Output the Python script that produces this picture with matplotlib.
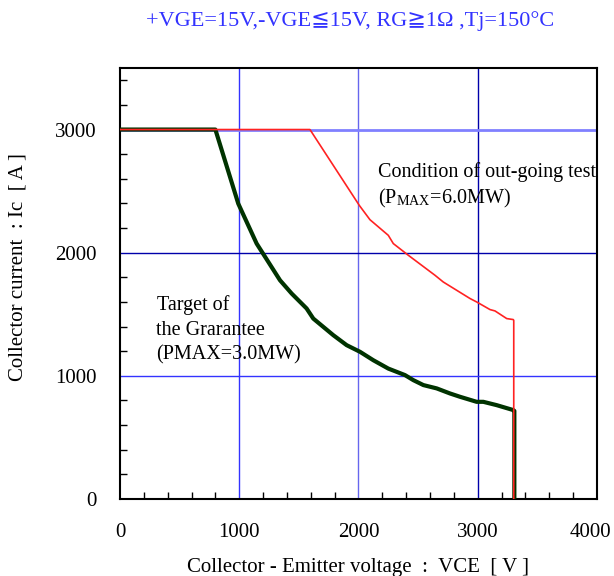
import matplotlib
matplotlib.use("Agg")
import matplotlib.pyplot as plt
import matplotlib.transforms as mtransforms
from matplotlib.ticker import MultipleLocator

plt.rcParams['font.family'] = ['Liberation Serif', 'DejaVu Serif', 'DejaVu Sans']
plt.rcParams['mathtext.fontset'] = 'stix'

# Target of the guarantee (PMAX = 3.0MW)
target_vce = [0, 800, 992, 1146, 1342, 1440, 1565, 1621, 1789, 1901, 2013, 2124,
              2250, 2390, 2460, 2544, 2656, 2767, 2851, 2991, 3047, 3159, 3298, 3307, 3307]
target_ic = [3000, 3000, 2398, 2074, 1776, 1668, 1547, 1465, 1330, 1249, 1195, 1127,
             1059, 1006, 965, 925, 898, 857, 830, 789, 789, 762, 722, 715, 0]

# Condition of out-going test (PMAX = 6.0MW)
test_vce = [0, 1593, 2007, 2096, 2250, 2292, 2418, 2641, 2711, 2823, 2935, 2991,
            3103, 3145, 3243, 3298, 3302, 3302]
test_ic = [3000, 3000, 2384, 2268, 2141, 2074, 1979, 1817, 1762, 1695, 1628, 1600,
           1538, 1527, 1465, 1457, 1450, 0]

xticks = [0, 1000, 2000, 3000, 4000]
yticks = [0, 1000, 2000, 3000]

fig = plt.figure(figsize=(6.14, 5.76), dpi=100)
ax = fig.add_axes([0.1954, 0.1337, 0.7769, 0.7483])

# grid lines
ax.axvline(1000, color='#3333ff', lw=1.0, zorder=1)
ax.axvline(2000, color='#6666ee', lw=1.0, zorder=1)
ax.axvline(3000, color='#0000aa', lw=1.0, zorder=1)
ax.axhline(1000, color='#3333ff', lw=1.0, zorder=1)
ax.axhline(2000, color='#0000aa', lw=1.0, zorder=1)
ax.axhline(3000, color='#8080ff', lw=2.0, zorder=1)

ax.plot(target_vce, target_ic, color='#003300', lw=3.0, zorder=3)
ax.plot(test_vce, test_ic, color='#ff2222', lw=1.2, zorder=4)

ax.set_xlim(0, 4000)
ax.set_ylim(0, 3500)
ax.set_xticks(xticks)
ax.set_yticks(yticks)
ax.xaxis.set_minor_locator(MultipleLocator(200))
ax.yaxis.set_minor_locator(MultipleLocator(200))
ax.tick_params(which='both', direction='in', top=False, right=False, labelsize=15)
ax.tick_params(which='major', length=0, pad=17)
ax.tick_params(which='minor', length=5, width=1, color='black')
for s in ax.spines.values():
    s.set_linewidth(1.5)

# keep the last x tick label inside the figure
last = ax.get_xticklabels()[-1]
last.set_transform(last.get_transform() + mtransforms.ScaledTranslation(-7 / 100, 0, fig.dpi_scale_trans))

ax.set_xlabel('Collector - Emitter voltage  :  VCE  [ V ]', fontsize=15, labelpad=12)
fig.text(18 / 614, 1 - 267 / 576, 'Collector current  : Ic  [ A ]', fontsize=15,
         rotation=90, ha='center', va='center')

ax.text(2163, 2652, 'Condition of out-going test', fontsize=14.5, va='center', ha='left')
ax.text(2163, 2441, r'(P$_{\mathregular{MAX}}$=6.0MW)', fontsize=14.5, va='center', ha='left')
ax.text(310, 1573, 'Target of', fontsize=14.5, va='center', ha='left')
ax.text(300, 1370, 'the Grarantee', fontsize=14.5, va='center', ha='left')
ax.text(300, 1168, '(PMAX=3.0MW)', fontsize=14.5, va='center', ha='left')

fig.text(0.57, 0.963, '+VGE=15V,-VGE\u226615V, RG\u22671\u03a9 ,Tj=150\u00b0C',
         color='#3333ff', fontsize=16, ha='center', va='center')

fig.savefig('out.png', dpi=100)
